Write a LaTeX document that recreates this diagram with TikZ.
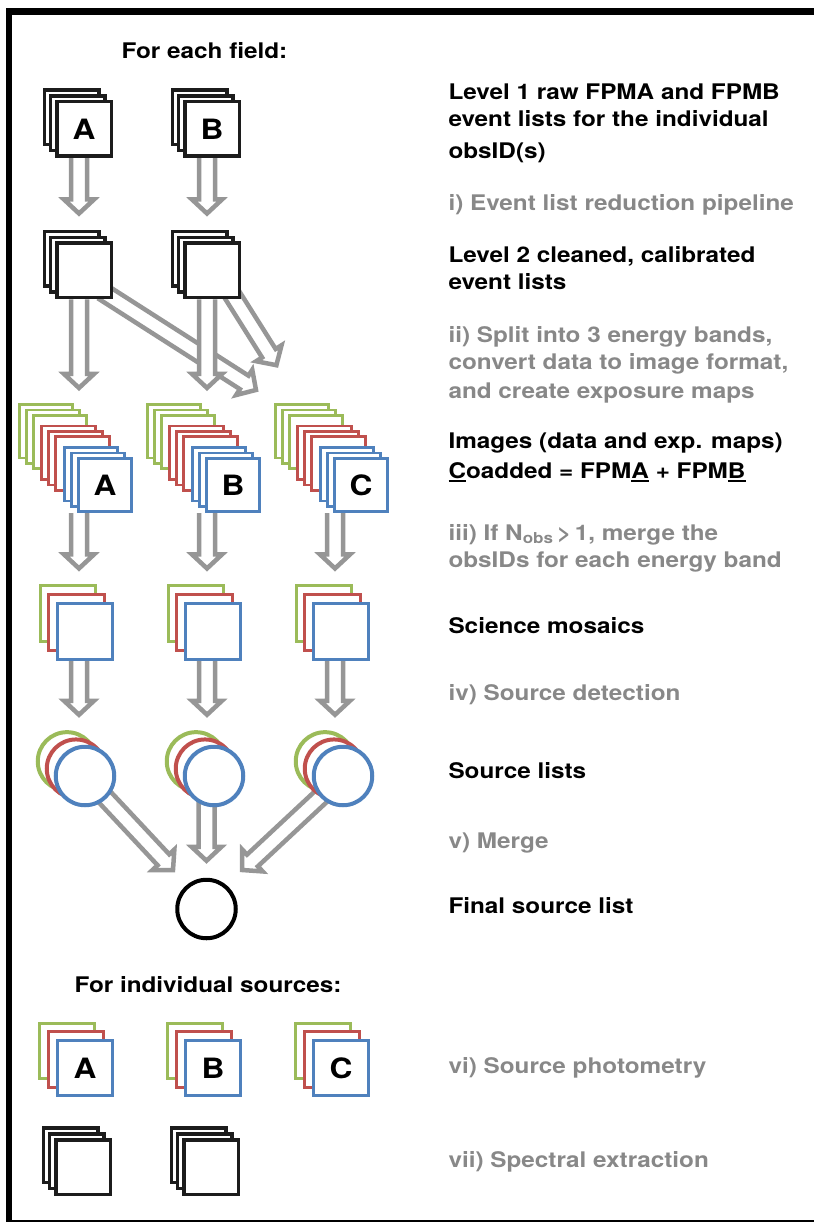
\documentclass[tikz,border=0pt]{standalone}
\usepackage{fontspec}
\setmainfont{TeX Gyre Heros}[FakeStretch=1.13]
\usetikzlibrary{calc,backgrounds}

\definecolor{evtblack}{RGB}{28,28,28}
\definecolor{flowgray}{RGB}{150,150,150}
\definecolor{stepgray}{RGB}{136,136,136}
\definecolor{bandgreen}{RGB}{155,187,89}
\definecolor{bandred}{RGB}{192,80,77}
\definecolor{bandblue}{RGB}{79,129,189}

\newcommand{\uletter}[1]{\setbox0=\hbox{#1}\rlap{\rule[-4pt]{\wd0}{2pt}}\box0\relax}

\tikzset{
  evt/.style={draw=evtblack,fill=white,line width=3.5pt,minimum size=54.5pt,inner sep=0pt,
    font=\fontsize{28}{28}\selectfont\bfseries},
  band/.style={fill=white,line width=2.6pt,minimum size=55.5pt,inner sep=0pt,
    font=\fontsize{28}{28}\selectfont\bfseries},
  srclist/.style={circle,fill=white,line width=4pt,minimum size=58.5pt,inner sep=0pt},
  desc/.style={anchor=base west,align=left,font=\fontsize{21.5}{27}\selectfont\bfseries},
  stepdesc/.style={desc,text=stepgray},
  hollow/.style={draw=flowgray,fill=white,line width=4.5pt,line join=miter,
    to path={let \p1=(\tikztostart),\p2=(\tikztotarget),
      \n1={atan2(\y2-\y1,\x2-\x1)},\n2={veclen(\x2-\x1,\y2-\y1)-14} in
      ($(\p1)+(\n1+90:8)$) -- ($(\p1)+(\n1:\n2)+(\n1+90:8)$) -- ($(\p1)+(\n1:\n2)+(\n1+90:15)$)
      -- (\p2) -- ($(\p1)+(\n1:\n2)+(\n1-90:15)$) -- ($(\p1)+(\n1:\n2)+(\n1-90:8)$)
      -- ($(\p1)+(\n1-90:8)$)}},
}

\begin{document}
\begin{tikzpicture}[x=1pt,y=1pt]
  \useasboundingbox (0,0) rectangle (814,-1222);
  \draw[line width=6.5pt] (9,-1222) -- (9,-11.5) -- (814,-11.5);
  \draw[line width=2pt] (9,-1221) -- (814,-1221);

  %% For each field
  \node[desc,anchor=base] (field) at (204.5,-59) {For each field:};

  %% Level 1 and Level 2 event lists
  \foreach \k in {2,1}{
    \node[evt] at (84-6.2*\k,-129+5.8*\k) {};
    \node[evt] at (212-6.2*\k,-129+5.8*\k) {};
    \node[evt] at (84-6.2*\k,-270.5+5.8*\k) {};
    \node[evt] at (212-6.2*\k,-270.5+5.8*\k) {};
  }
  \node[evt] (L1A) at (84,-129) {A};
  \node[evt] (L1B) at (212,-129) {B};
  \node[evt] (L2A) at (84,-270.5) {};
  \node[evt] (L2B) at (212,-270.5) {};

  %% Images, three energy bands each
  \foreach \x/\lab/\nm in {105/A/imA,233/B/imB,361/C/imC}{
    \foreach \g/\k/\col in {2/2/bandgreen,2/1/bandgreen,2/0/bandgreen,1/2/bandred,1/1/bandred,1/0/bandred,0/2/bandblue,0/1/bandblue}
      \node[band,minimum size=53.5pt,draw=\col] at (\x-22.5*\g-7*\k,-485+21.5*\g+5.3*\k) {};
    \node[band,minimum size=53.5pt,draw=bandblue] (\nm) at (\x,-485) {\lab};
  }

  %% Science mosaics
  \foreach \x/\nm in {85/mosA,213/mosB,341/mosC}{
    \node[band,draw=bandgreen] at (\x-17,-631.5+18) {};
    \node[band,draw=bandred] at (\x-8.5,-631.5+9) {};
    \node[band,draw=bandblue] (\nm) at (\x,-631.5) {};
  }

  %% Source lists
  \foreach \x/\nm in {85/srcA,214/srcB,343/srcC}{
    \node[srclist,draw=bandgreen] at (\x-18,-776+14.6) {};
    \node[srclist,draw=bandred] at (\x-9,-776+7.3) {};
    \node[srclist,draw=bandblue] (\nm) at (\x,-776) {};
  }
  \node[srclist,draw=black] (final) at (206.5,-909) {};

  %% For individual sources
  \node[desc,anchor=base] (indiv) at (208,-992) {For individual sources:};
  \foreach \x/\lab/\nm in {85/A/phA,213/B/phB,341/C/phC}{
    \node[band,draw=bandgreen] at (\x-18,-1068+17) {};
    \node[band,draw=bandred] at (\x-9,-1068+8.5) {};
    \node[band,draw=bandblue] (\nm) at (\x,-1068) {\lab};
  }
  \foreach \k in {2,1}{
    \node[evt] at (83-6.2*\k,-1167+5.8*\k) {};
    \node[evt] at (211-6.2*\k,-1167+5.8*\k) {};
  }
  \node[evt] (spA) at (83,-1167) {};
  \node[evt] (spB) at (211,-1167) {};

  %% free arrow ends
  \coordinate (coaddA) at ([xshift=-105pt,yshift=67pt]imC.north);
  \coordinate (coaddB) at ([xshift=-84.6pt,yshift=91.75pt]imC.north);
  \coordinate (mergeA) at ([xshift=-33.5pt,yshift=39pt]final.center);
  \coordinate (mergeC) at ([xshift=35.7pt,yshift=39pt]final.center);

  %% arrows
  \begin{scope}[on background layer]
    \draw[hollow] ([xshift=-5pt]L1A.south) to ([xshift=-5pt,yshift=28pt]L2A.north);
    \draw[hollow] ([xshift=-5pt]L1B.south) to ([xshift=-5pt,yshift=28pt]L2B.north);
    \draw[hollow] ([xshift=18pt,yshift=8pt]L2A.south) to (coaddA);
    \draw[hollow] ([xshift=18pt,yshift=8pt]L2B.south) to (coaddB);
    \draw[hollow] ([xshift=-5pt]L2A.south) to ([xshift=-26pt,yshift=69pt]imA.north);
    \draw[hollow] ([xshift=-5pt]L2B.south) to ([xshift=-26pt,yshift=69pt]imB.north);
    \foreach \a/\b in {imA/mosA,imB/mosB,imC/mosC}
      \draw[hollow] ([xshift=-26pt]\a.south) to ([xshift=-6pt,yshift=34pt]\b.north);
    \draw[hollow] ([xshift=-6pt]mosA.south) to ([xshift=-6pt,yshift=30pt]srcA.north);
    \draw[hollow] ([xshift=-6pt]mosB.south) to ([xshift=-7pt,yshift=30pt]srcB.north);
    \draw[hollow] ([xshift=-6pt]mosC.south) to ([xshift=-8pt,yshift=30pt]srcC.north);
    \draw[hollow] (srcA) to (mergeA);
    \draw[hollow] (final |- srcB) to ([yshift=17pt]final.north);
    \draw[hollow] (srcC) to (mergeC);
  \end{scope}

  %% descriptions (base = last line)
  \node[desc] (lev1) at (445,-159) {Level 1 raw FPMA and FPMB\\event lists for the individual\\[5pt]obsID(s)};
  \node[stepdesc] (step1) at (445,-211) {i) Event list reduction pipeline};
  \node[desc] (lev2) at (445,-290) {Level 2 cleaned, calibrated\\event lists};
  \node[stepdesc] (step2) at (445,-398) {ii) Split into 3 energy bands,\\convert data to image format,\\[2pt]and create exposure maps};
  \node[desc] (imgs) at (445,-478) {Images (data and exp. maps)\\[3pt]\uletter{C}oadded = FPM\uletter{A} + FPM\uletter{B}};
  \node[stepdesc] (step3) at (445,-567) {iii) If N\textsubscript{obs}\,>\,1, merge the\\obsIDs for each energy band};
  \node[desc] (mos) at (445,-633) {Science mosaics};
  \node[stepdesc] (step4) at (445,-700) {iv) Source detection};
  \node[desc] (srcl) at (445,-778) {Source lists};
  \node[stepdesc] (step5) at (445,-848) {v) Merge};
  \node[desc] (fsl) at (445,-913) {Final source list};
  \node[stepdesc] (step6) at (445,-1073) {vi) Source photometry};
  \node[stepdesc] (step7) at (445,-1167) {vii) Spectral extraction};
\end{tikzpicture}
\end{document}
